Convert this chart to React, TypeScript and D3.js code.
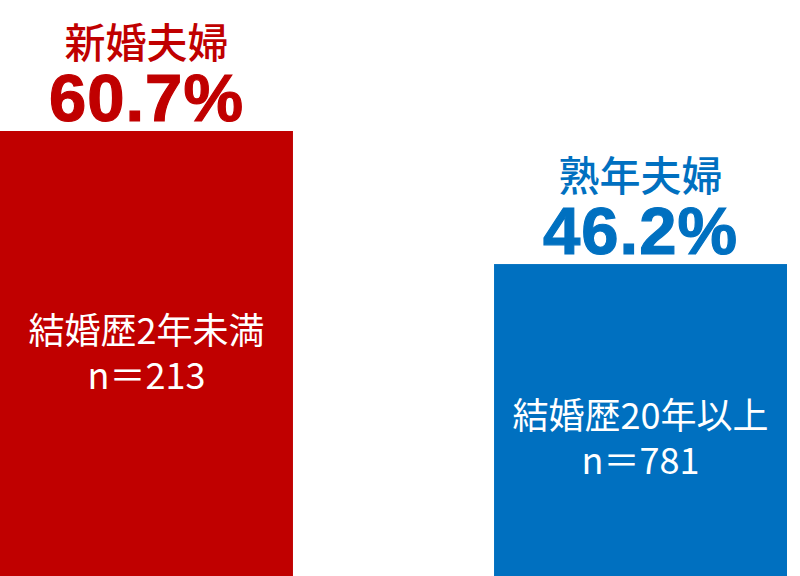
import { useEffect, useRef } from "react";
import * as d3 from "d3";

// chart data
const groups = ["新婚夫婦", "熟年夫婦"];
const percents = [60.7, 46.2];
const subLabels = ["結婚歴2年未満", "結婚歴20年以上"];
const sampleSizes = ["n＝213", "n＝781"];
const colours = ["#C00000", "#0070C0"];

export default function App() {
  const svgRef = useRef<SVGSVGElement>(null);

  useEffect(() => {
    if (!svgRef.current) return;
    const width = 800;
    const height = 576;
    const svg = d3.select(svgRef.current);
    svg.selectAll("*").remove();
    svg.attr("width", width).attr("height", height);

    const xScale = d3.scaleBand()
      .domain(groups)
      .range([0, 787])
      .paddingInner(0.407)
      .paddingOuter(0);
    // baseline sits below the visible area (chart is cropped)
    const yScale = d3.scaleLinear()
      .domain([0, 60.7])
      .range([688, 131]);

    const rows = groups.map((g, i) => ({
      group: g,
      value: percents[i],
      sub: subLabels[i],
      n: sampleSizes[i],
      colour: colours[i],
    }));

    const cjk = "'Noto Sans CJK JP', 'Noto Sans', sans-serif";

    svg.append("g")
      .selectAll("rect")
      .data(rows)
      .enter()
      .append("rect")
      .attr("x", d => xScale(d.group)!)
      .attr("y", d => yScale(d.value))
      .attr("width", xScale.bandwidth())
      .attr("height", d => yScale(0) - yScale(d.value))
      .attr("fill", d => d.colour);

    const cx = (d: any) => xScale(d.group)! + xScale.bandwidth() / 2;

    // group titles above bars
    svg.append("g")
      .selectAll("text")
      .data(rows)
      .enter()
      .append("text")
      .attr("x", cx)
      .attr("y", d => yScale(d.value) - 91)
      .attr("text-anchor", "middle")
      .attr("dominant-baseline", "central")
      .attr("font-family", cjk)
      .attr("font-weight", 500)
      .attr("font-size", 41)
      .attr("fill", d => d.colour)
      .text(d => d.group);

    // percentages
    svg.append("g")
      .selectAll("text")
      .data(rows)
      .enter()
      .append("text")
      .attr("x", cx)
      .attr("y", d => yScale(d.value) - 34)
      .attr("text-anchor", "middle")
      .attr("dominant-baseline", "central")
      .attr("font-family", "'Liberation Sans', Arial, sans-serif")
      .attr("font-weight", 900)
      .attr("font-size", 67)
      .attr("letter-spacing", 1)
      .attr("stroke", d => d.colour)
      .attr("stroke-width", 1.2)
      .attr("fill", d => d.colour)
      .text(d => `${d.value.toFixed(1)}%`);

    // labels inside bars
    const innerOffset = [197, 149];
    const inner = svg.append("g")
      .selectAll("g")
      .data(rows)
      .enter()
      .append("g")
      .attr("transform", (d, i) => `translate(${cx(d)},${yScale(d.value) + innerOffset[i]})`);
    inner.append("text")
      .attr("text-anchor", "middle")
      .attr("dominant-baseline", "central")
      .attr("font-family", cjk)
      .attr("font-weight", 400)
      .attr("font-size", 36)
      .attr("fill", "#fff")
      .text(d => d.sub);
    inner.append("text")
      .attr("y", 45)
      .attr("text-anchor", "middle")
      .attr("dominant-baseline", "central")
      .attr("font-family", cjk)
      .attr("font-weight", 400)
      .attr("font-size", 36)
      .attr("fill", "#fff")
      .text(d => d.n);
  }, []);

  return (
    <div style={{ position: "absolute", left: 0, top: 0, width: 800, height: 576, background: "#fff" }}>
      <svg ref={svgRef} style={{ display: "block" }}></svg>
    </div>
  );
}
